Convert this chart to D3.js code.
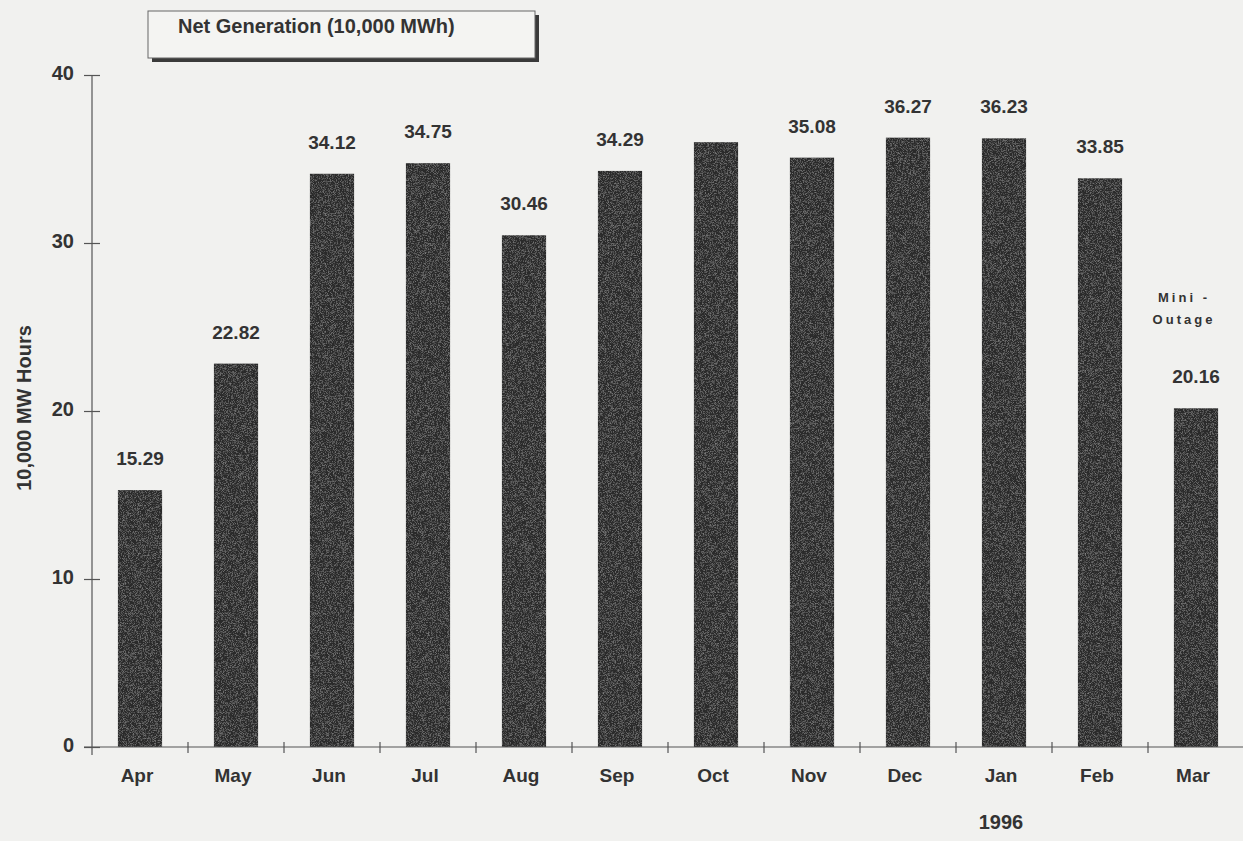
<!DOCTYPE html>
<html>
<head>
<meta charset="utf-8">
<script src="https://cdn.jsdelivr.net/npm/d3@7"></script>
<style>
  html, body { margin: 0; padding: 0; background: #f1f1ef; }
  svg { display: block; }
  text { font-family: "Liberation Sans", Arial, sans-serif; font-weight: bold; fill: #333; }
</style>
</head>
<body>
<svg id="chart" width="1243" height="841"></svg>
<script>
// Monthly net generation, April 1995 through March 1996
const months = ["Apr", "May", "Jun", "Jul", "Aug", "Sep", "Oct", "Nov", "Dec", "Jan", "Feb", "Mar"];
const netGeneration = [15.29, 22.82, 34.12, 34.75, 30.46, 34.29, 36.0, 35.08, 36.27, 36.23, 33.85, 20.16];
// Oct carries no printed value label
const valueLabels = ["15.29", "22.82", "34.12", "34.75", "30.46", "34.29", "", "35.08", "36.27", "36.23", "33.85", "20.16"];
const yTicks = [0, 10, 20, 30, 40];
const chartTitle = "Net Generation (10,000 MWh)";
const yTitle = "10,000 MW Hours";
const yearNote = { month: "Jan", text: "1996" };
const marNote = { month: "Mar", lines: ["Mini -", "Outage"] };

const svg = d3.select("#chart");

const x = d3.scaleBand()
  .domain(months)
  .range([92, 1244])
  .paddingInner(0.54)
  .paddingOuter(0.27);

const y = d3.scaleLinear().domain([0, 40]).range([747, 75]);

// grainy texture for the bars
const defs = svg.append("defs");
const f = defs.append("filter").attr("id", "grain").attr("x", 0).attr("y", 0).attr("width", 1).attr("height", 1);
f.append("feTurbulence").attr("type", "fractalNoise").attr("baseFrequency", 1.4).attr("numOctaves", 1).attr("seed", 3).attr("result", "noise");
f.append("feColorMatrix").attr("in", "noise").attr("type", "matrix")
  .attr("values", "0 0 0 0 0.45  0 0 0 0 0.45  0 0 0 0 0.45  0 0 0 1.2 -0.55").attr("result", "specks");
f.append("feComposite").attr("in", "specks").attr("in2", "SourceGraphic").attr("operator", "in").attr("result", "sp");
f.append("feMerge").selectAll("feMergeNode").data(["SourceGraphic", "sp"]).join("feMergeNode").attr("in", d => d);

// bars
svg.append("g").selectAll("rect")
  .data(months)
  .join("rect")
  .attr("x", (m) => x(m))
  .attr("width", x.bandwidth())
  .attr("y", (m, i) => y(netGeneration[i]))
  .attr("height", (m, i) => y(0) - y(netGeneration[i]))
  .attr("fill", "#2b2b2b")
  .attr("filter", "url(#grain)");

// value labels
svg.append("g").selectAll("text")
  .data(months)
  .join("text")
  .attr("x", (m) => x(m) + x.bandwidth() / 2)
  .attr("y", (m, i) => y(netGeneration[i]) - 25)
  .attr("text-anchor", "middle")
  .attr("font-size", 19)
  .text((m, i) => valueLabels[i]);

// y axis
const yAxis = d3.axisLeft(y).tickValues(yTicks).tickSize(0).tickPadding(18);
const gy = svg.append("g").attr("transform", "translate(92,0)").call(yAxis);
gy.select(".domain").remove();
gy.selectAll("text").attr("font-size", 20).attr("font-family", "Liberation Sans, Arial, sans-serif").attr("fill", "#333").attr("dy", "0.2em");
gy.append("line").attr("x1", 0).attr("x2", 0).attr("y1", y(40)).attr("y2", y(0) + 8).attr("stroke", "#555").attr("stroke-width", 1.2);
gy.selectAll(".tick").append("line").attr("x1", -8).attr("x2", 8).attr("stroke", "#555").attr("stroke-width", 1.2);

// x axis: baseline with ticks at category boundaries
const gx = svg.append("g").attr("transform", `translate(0,${y(0)})`);
gx.append("line").attr("x1", 84).attr("x2", 1243).attr("stroke", "#555").attr("stroke-width", 1.2);
const boundaries = months.map((m) => x(m) - x.step() * x.paddingInner() / 2).slice(1);
gx.selectAll("line.tk").data(boundaries).join("line").attr("class", "tk")
  .attr("x1", d => d).attr("x2", d => d).attr("y1", -5).attr("y2", 6)
  .attr("stroke", "#555").attr("stroke-width", 1.2);
const xAxis = d3.axisBottom(x).tickSize(0).tickPadding(22);
const gxl = svg.append("g").attr("transform", `translate(-3,${y(0)})`).call(xAxis);
gxl.select(".domain").remove();
gxl.selectAll("text").attr("font-size", 19).attr("font-family", "Liberation Sans, Arial, sans-serif").attr("fill", "#333");

// year marker below January
svg.append("text")
  .attr("x", x(yearNote.month) + x.bandwidth() / 2 - 3)
  .attr("y", 829)
  .attr("text-anchor", "middle")
  .attr("font-size", 20)
  .text(yearNote.text);

// note above the March bar
const mi = months.indexOf(marNote.month);
svg.append("g").selectAll("text")
  .data(marNote.lines)
  .join("text")
  .attr("x", x(marNote.month) + x.bandwidth() / 2 - 12)
  .attr("y", (d, i) => y(netGeneration[mi]) - 106 + i * 22)
  .attr("text-anchor", "middle")
  .attr("font-size", 13)
  .attr("letter-spacing", 3)
  .text(d => d);

// y axis title
svg.append("text")
  .attr("transform", "translate(31,408) rotate(-90)")
  .attr("text-anchor", "middle")
  .attr("font-size", 20)
  .text(yTitle);

// title box with drop shadow
const tb = svg.append("g");
tb.append("rect").attr("x", 152).attr("y", 15).attr("width", 387).attr("height", 47).attr("fill", "#3a3a3a");
tb.append("rect").attr("x", 148).attr("y", 11).attr("width", 387).attr("height", 47).attr("fill", "#f4f4f2").attr("stroke", "#666").attr("stroke-width", 1);
tb.append("text").attr("x", 178).attr("y", 33).attr("font-size", 20).attr("fill", "#3a3a3a").text(chartTitle);
</script>
</body>
</html>
